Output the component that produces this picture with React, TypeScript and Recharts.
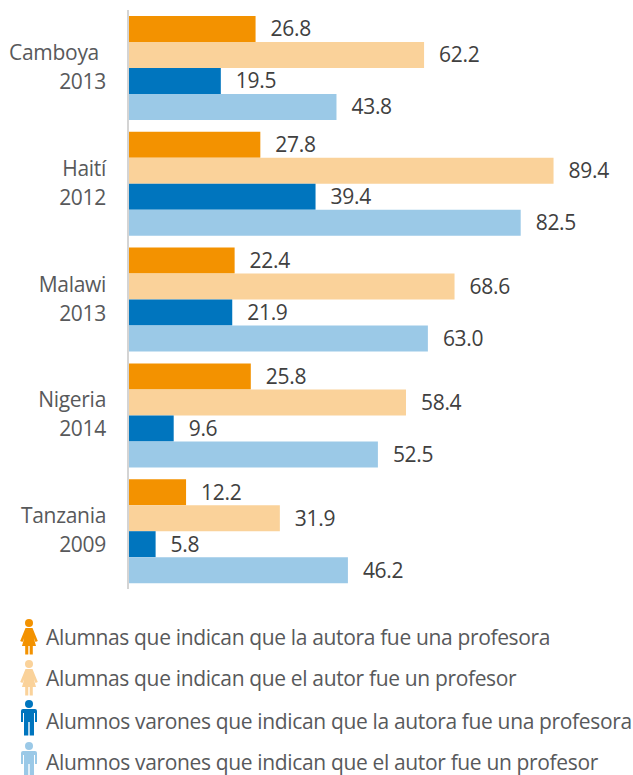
import { BarChart, Bar, XAxis, YAxis, LabelList, ReferenceLine } from "recharts"

const FONT = "'Open Sans', sans-serif"

const paises = ["Camboya", "Haití", "Malawi", "Nigeria", "Tanzania"]
const anios = ["2013", "2012", "2013", "2014", "2009"]

const alumnasAutora = [26.8, 27.8, 22.4, 25.8, 12.2]
const alumnasAutor = [62.2, 89.4, 68.6, 58.4, 31.9]
const varonesAutora = [19.5, 39.4, 21.9, 9.6, 5.8]
const varonesAutor = [43.8, 82.5, 63.0, 52.5, 46.2]

const leyendas = [
  "Alumnas que indican que la autora fue una profesora",
  "Alumnas que indican que el autor fue un profesor",
  "Alumnos varones que indican que la autora fue una profesora",
  "Alumnos varones que indican que el autor fue un profesor",
]
const colores = ["#f39200", "#fad29a", "#0075be", "#9bc9e7"]
const claves = ["alumnasAutora", "alumnasAutor", "varonesAutora", "varonesAutor"]
const valores = [alumnasAutora, alumnasAutor, varonesAutora, varonesAutor]

const data = paises.map((pais, i) => {
  const row: Record<string, string | number> = { pais }
  claves.forEach((k, j) => {
    row[k] = valores[j][i]
  })
  return row
})

function PaisTick({ x, y, payload, index }: any) {
  const i = index ?? paises.indexOf(payload.value)
  return (
    <text textAnchor="end" fontFamily={FONT} fontSize={21} letterSpacing={-0.3} fill="#58595b">
      <tspan x={payload.value === "Camboya" ? x - 7 : x} y={y - 8}>{payload.value}</tspan>
      <tspan x={x} y={y + 21}>{anios[i]}</tspan>
    </text>
  )
}

function Persona({ color, mujer }: { color: string; mujer: boolean }) {
  return (
    <svg width={18} height={36} viewBox="0 0 18 36" style={{ display: "block" }}>
      <circle cx={9} cy={4} r={4} fill={color} />
      {mujer ? (
        <path
          d="M5.5 9 H12.5 L17.8 22 L15.5 23 L13.8 19 L16 27 H12.8 V35.5 H9.7 V27 H8.3 V35.5 H5.2 V27 H2 L4.2 19 L2.5 23 L0.2 22 Z"
          fill={color}
        />
      ) : (
        <path
          d="M3 9 H15 Q17 9 17 11 V22 H15 V13 H14 V35.5 H9.7 V22 H8.3 V35.5 H4 V13 H3 V22 H1 V11 Q1 9 3 9 Z"
          fill={color}
        />
      )}
    </svg>
  )
}

function Leyenda() {
  const tops = [619, 660, 700, 742]
  const textTops = [4, 4, 7, 6]
  return (
    <>
      {leyendas.map((t, i) => (
        <div key={t} style={{ position: "absolute", left: 0, top: tops[i], width: 633, height: 36 }}>
          <div style={{ position: "absolute", left: 20, top: 0 }}>
            <Persona color={colores[i]} mujer={i < 2} />
          </div>
          <div
            style={{
              position: "absolute",
              left: 46,
              top: textTops[i],
              fontFamily: FONT,
              fontSize: 21,
              lineHeight: "28px",
              color: "#58595b",
              whiteSpace: "nowrap",
              letterSpacing: -0.35,
            }}
          >
            {t}
          </div>
        </div>
      ))}
    </>
  )
}

export default function App() {
  return (
    <div style={{ position: "absolute", left: 0, top: 0, width: 633, height: 775, overflow: "hidden", background: "#fff" }}>
      <BarChart
        width={633}
        height={775}
        data={data}
        layout="vertical"
        margin={{ top: 10, right: 29, bottom: 186, left: 0 }}
        barCategoryGap={6}
        barGap={0}
      >
        <XAxis type="number" domain={[0, 100]} hide />
        <YAxis
          type="category"
          dataKey="pais"
          width={128}
          axisLine={false}
          tickLine={false}
          tickMargin={0}
          tickSize={22}
          interval={0}
          tick={<PaisTick />}
        />
        {claves.map((k, i) => (
          <Bar key={k} dataKey={k} fill={colores[i]} isAnimationActive={false}>
            <LabelList
              dataKey={k}
              position="right"
              offset={15}
              formatter={(v: number) => v.toFixed(1)}
              style={{ fontFamily: FONT, fontSize: 21, letterSpacing: -0.3, fill: "#404040" }}
            />
          </Bar>
        ))}
        <ReferenceLine x={0} stroke="#d4d4d4" strokeWidth={2} />
      </BarChart>
      <Leyenda />
    </div>
  )
}
